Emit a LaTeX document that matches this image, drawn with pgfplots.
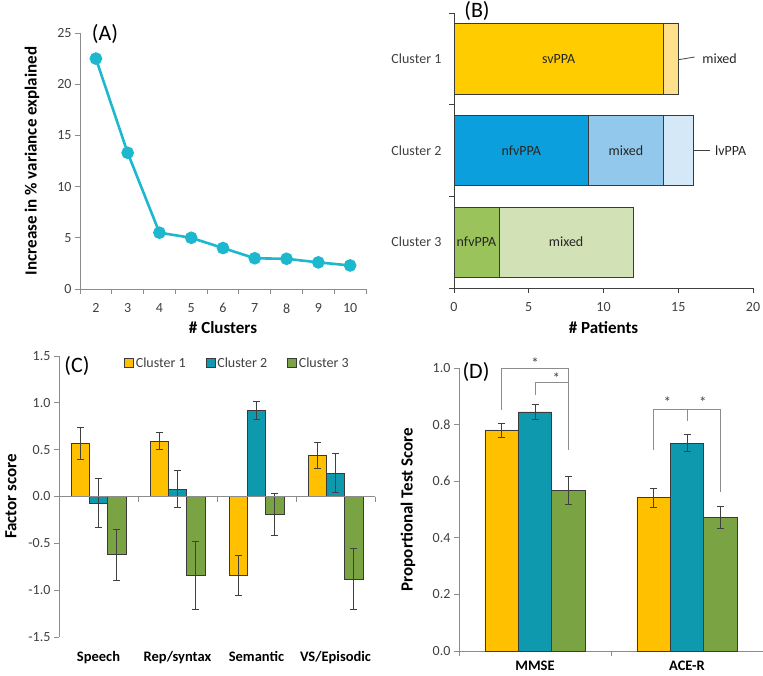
\documentclass[border=0pt]{standalone}
\usepackage{fontspec}
\setmainfont{Carlito}
\usepackage{pgfplots}
\pgfplotsset{compat=1.18}

\definecolor{axisgray}{HTML}{8C8C8C}
\definecolor{bline}{HTML}{404040}
\definecolor{ticktext}{HTML}{404040}
\definecolor{lineA}{HTML}{1DB8CE}
\definecolor{yel}{HTML}{FFC000}
\definecolor{teal}{HTML}{0F99AF}
\definecolor{grn}{HTML}{7AA343}
\definecolor{svY}{HTML}{FFCC00}
\definecolor{mixY}{HTML}{FFE18C}
\definecolor{nfvB}{HTML}{0BA0DD}
\definecolor{mixB}{HTML}{92C8EC}
\definecolor{lvB}{HTML}{D4E8F7}
\definecolor{nfvG}{HTML}{9AC35B}
\definecolor{mixG}{HTML}{D3E1B7}
\definecolor{bardraw}{HTML}{3A3A3A}

\tikzset{
  blab/.style={font=\fontsize{14}{16}\selectfont, text=black!85},
  star/.style={font=\fontsize{15}{16}\selectfont, text=ticktext, yshift=-2pt},
  panel/.style={font=\fontsize{22}{24}\selectfont},
}

\pgfplotsset{
  base/.style={
    scale only axis, anchor=south west, clip=false,
    axis lines*=left,
    axis line style={draw=axisgray, line width=0.8pt},
    tick style={draw=axisgray, line width=0.8pt},
    tick align=outside, major tick length=5pt, minor tick length=5pt,
    tick label style={font=\fontsize{14}{16}\selectfont, text=ticktext},
    /pgf/number format/assume math mode=true,
    label style={font=\fontsize{17}{20}\selectfont\bfseries, text=black},
  },
  ebar/.style={error bars/.cd, y dir=both, y explicit,
    error bar style={draw=bline, line width=0.7pt},
    error mark options={rotate=90, mark size=3.5pt, draw=bline, line width=0.7pt}},
  sq/.style={legend image code/.code={\draw[##1] (0pt,-4.5pt) rectangle (9pt,4.5pt);}},
  hb/.style={xbar, bar width=0.77, bar shift=0pt, draw=bardraw, line width=0.6pt},
}

\begin{document}
\begin{tikzpicture}
\path[use as bounding box] (0,0) rectangle (763pt,675pt);

% (A) variance explained
\begin{axis}[base, at={(80pt,386pt)}, width=286pt, height=256pt,
  xmin=1.5, xmax=10.5, ymin=0, ymax=25,
  xtick={2,...,10}, minor xtick={1.5,2.5,...,10.5},
  major x tick style={draw=none},
  xticklabel style={yshift=-6pt},
  ytick={0,5,...,25},
  xlabel={\# Clusters}, ylabel={Increase in \% variance explained},
  xlabel style={at={(axis description cs:0.5,0)}, anchor=center, yshift=-39pt},
  ylabel style={at={(axis description cs:-0.168,0.5)}, anchor=center},
]
\addplot[color=lineA, line width=2.6pt, mark=*, mark size=5pt,
  mark options={fill=lineA, draw=lineA}]
  coordinates {(2,22.5) (3,13.3) (4,5.5) (5,5.0) (6,4.0) (7,3.0) (8,2.95) (9,2.6) (10,2.3)};
\end{axis}

% (B) patients per cluster: longer (cumulative) segment drawn first, shorter on top
\begin{axis}[base, at={(454pt,387pt)}, width=299pt, height=275pt,
  axis line style={draw=bline}, tick style={draw=bline},
  xmin=0, xmax=20, ymin=-0.5, ymax=2.5,
  xtick={0,5,...,20},
  xticklabel style={yshift=-6pt},
  ytick={-0.5,0.5,1.5,2.5}, yticklabels={},
  extra y ticks={0,1,2}, extra y tick labels={Cluster 3,Cluster 2,Cluster 1},
  extra y tick style={major tick length=0pt, yticklabel style={xshift=-9pt}},
  xlabel={\# Patients},
  xlabel style={at={(axis description cs:0.5,0)}, anchor=center, yshift=-40pt},
]
% cluster 1: svPPA 14, mixed 1
\addplot[hb, fill=mixY] coordinates {(15,2)};
\addplot[hb, fill=svY] coordinates {(14,2)};
% cluster 2: nfvPPA 9, mixed 5, lvPPA 2
\addplot[hb, fill=lvB] coordinates {(16,1)};
\addplot[hb, fill=mixB] coordinates {(14,1)};
\addplot[hb, fill=nfvB] coordinates {(9,1)};
% cluster 3: nfvPPA 3, mixed 9
\addplot[hb, fill=mixG] coordinates {(12,0)};
\addplot[hb, fill=nfvG] coordinates {(3,0)};
\node[blab] at (axis cs:7,2) {svPPA};
\node[blab] at (axis cs:4.5,1) {nfvPPA};
\node[blab] at (axis cs:11.5,1) {mixed};
\node[blab] at (axis cs:1.5,0) {nfvPPA};
\node[blab] at (axis cs:7.5,0) {mixed};
\draw[draw=bline, line width=0.8pt] (axis cs:15,1.99) -- (axis cs:16.1,2.02);
\node[blab, anchor=west, inner sep=0pt] at (axis cs:16.6,2) {mixed};
\draw[draw=bline, line width=0.8pt] (axis cs:16,1) -- (axis cs:17.1,1);
\node[blab, anchor=west, inner sep=0pt] at (axis cs:17.45,1) {lvPPA};
\end{axis}

% (C) factor scores
\begin{axis}[base, sq, at={(59pt,38pt)}, width=316pt, height=281pt,
  x axis line style={draw=none}, major x tick style={draw=none},
  xmin=-0.5, xmax=3.5, ymin=-1.5, ymax=1.5,
  xtick={0,1,2,3}, xticklabels={Speech,Rep/syntax,Semantic,VS/Episodic},
  xticklabel style={font=\fontsize{14.5}{16}\selectfont\bfseries, text=black, yshift=-6pt},
  ytick={-1.5,-1,-0.5,0,0.5,1,1.5},
  yticklabel style={/pgf/number format/.cd, fixed, fixed zerofill, precision=1},
  ylabel={Factor score},
  ylabel style={at={(axis description cs:-0.152,0.5)}, anchor=center},
  legend style={at={(0.565,0.975)}, anchor=center, draw=none, fill=none,
    legend columns=3, font=\fontsize{14}{16}\selectfont, text=ticktext,
    /tikz/every even column/.append style={column sep=18pt}},
]
\addplot[ybar, bar width=0.23, bar shift=0pt, fill=yel, draw=bardraw, line width=0.5pt, ebar]
  coordinates {(-0.23,0.57) +- (0,0.17) (0.77,0.59) +- (0,0.09) (1.77,-0.84) +- (0,0.21) (2.77,0.44) +- (0,0.14)};
\addplot[ybar, bar width=0.23, bar shift=0pt, fill=teal, draw=bardraw, line width=0.5pt, ebar]
  coordinates {(0,-0.07) +- (0,0.26) (1,0.08) +- (0,0.20) (2,0.92) +- (0,0.10) (3,0.25) +- (0,0.21)};
\addplot[ybar, bar width=0.23, bar shift=0pt, fill=grn, draw=bardraw, line width=0.5pt, ebar]
  coordinates {(0.23,-0.62) +- (0,0.27) (1.23,-0.84) +- (0,0.36) (2.23,-0.19) +- (0,0.22) (3.23,-0.88) +- (0,0.33)};
\legend{Cluster 1, Cluster 2, Cluster 3}
\draw[draw=axisgray, line width=0.8pt] (axis cs:-0.5,0) -- (axis cs:3.5,0);
\draw[draw=axisgray, line width=0.8pt] (axis cs:0.5,0) -- ++(0pt,-5pt);
\draw[draw=axisgray, line width=0.8pt] (axis cs:1.5,0) -- ++(0pt,-5pt);
\draw[draw=axisgray, line width=0.8pt] (axis cs:2.5,0) -- ++(0pt,-5pt);
\draw[draw=axisgray, line width=0.8pt] (axis cs:3.5,0) -- ++(0pt,-5pt);
\end{axis}

% (D) test scores
\begin{axis}[base, sq, at={(459pt,24pt)}, width=304pt, height=283pt,
  xmin=-0.5, xmax=1.5, ymin=0, ymax=1,
  xtick={0,1}, xticklabels={MMSE,ACE-R}, minor xtick={-0.5,0.5,1.5},
  major x tick style={draw=none},
  xticklabel style={font=\fontsize{14.5}{16}\selectfont\bfseries, text=black, yshift=-1pt},
  ytick={0,0.2,0.4,0.6,0.8,1.0},
  yticklabel style={/pgf/number format/.cd, fixed, fixed zerofill, precision=1},
  ylabel={Proportional Test Score},
  ylabel style={at={(axis description cs:-0.168,0.5)}, anchor=center},
]
\addplot[ybar, bar width=0.22, bar shift=0pt, fill=yel, draw=bardraw, line width=0.5pt, ebar]
  coordinates {(-0.22,0.781) +- (0,0.025) (0.78,0.542) +- (0,0.034)};
\addplot[ybar, bar width=0.22, bar shift=0pt, fill=teal, draw=bardraw, line width=0.5pt, ebar]
  coordinates {(0,0.845) +- (0,0.028) (1,0.734) +- (0,0.030)};
\addplot[ybar, bar width=0.22, bar shift=0pt, fill=grn, draw=bardraw, line width=0.5pt, ebar]
  coordinates {(0.22,0.568) +- (0,0.050) (1.22,0.472) +- (0,0.040)};
\draw[draw=axisgray, line width=0.8pt] (axis cs:-0.22,0.852) -- (axis cs:-0.22,1.0) -- (axis cs:0.22,1.0) -- (axis cs:0.22,0.71);
\draw[draw=axisgray, line width=0.8pt] (axis cs:0,0.905) -- (axis cs:0,0.95) -- (axis cs:0.22,0.95);
\draw[draw=axisgray, line width=0.8pt] (axis cs:0.78,0.71) -- (axis cs:0.78,0.855) -- (axis cs:1.22,0.855) -- (axis cs:1.22,0.563);
\draw[draw=axisgray, line width=0.8pt] (axis cs:1,0.855) -- (axis cs:1,0.814);
\node[star] at (axis cs:0,1.025) {*};
\node[star] at (axis cs:0.14,0.972) {*};
\node[star] at (axis cs:0.87,0.885) {*};
\node[star] at (axis cs:1.105,0.885) {*};
\end{axis}

\node[panel] at (105pt,641pt) {(A)};
\node[panel] at (477pt,664pt) {(B)};
\node[panel] at (77pt,309pt) {(C)};
\node[panel] at (476pt,303pt) {(D)};
\end{tikzpicture}
\end{document}
